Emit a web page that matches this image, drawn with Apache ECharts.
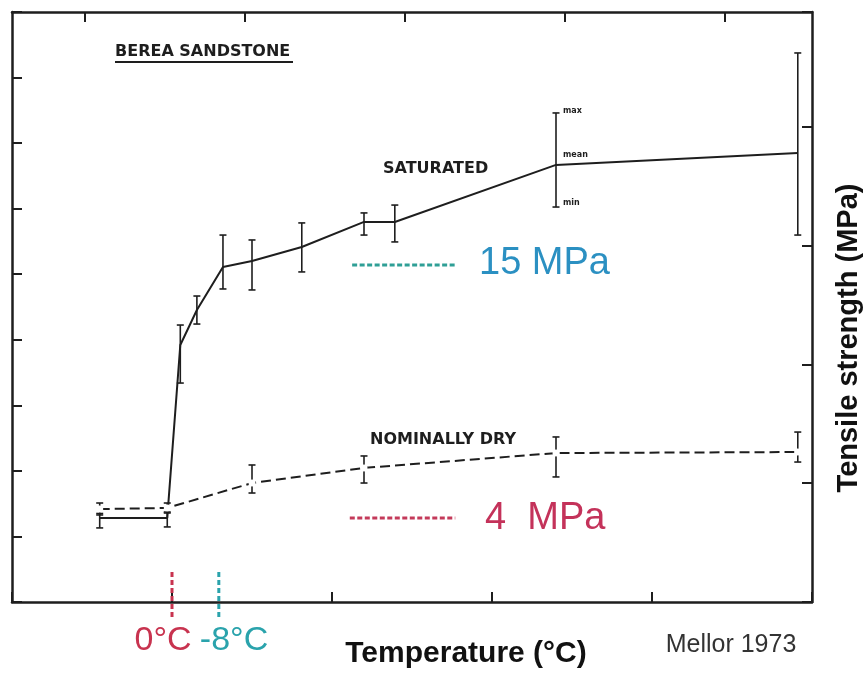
<!DOCTYPE html>
<html>
<head>
<meta charset="utf-8">
<title>Berea sandstone tensile strength</title>
<script src="https://cdn.jsdelivr.net/npm/echarts@6/dist/echarts.min.js"></script>
<style>
  html, body { margin: 0; padding: 0; background: #fff; }
  #chart { width: 865px; height: 673px; }
</style>
</head>
<body>
<div id="chart"></div>
<script>
// temperature in °C (axis runs warm -> cold, left to right), strength in psi
const satTemp = [12.2, 0.8, -1.4, -4.2, -8.6, -13.5, -21.9, -32.4, -37.6, -64.8, -105.6]
const satMean = [513, 513, 1568, 1782, 2044, 2081, 2166, 2319, 2319, 2667, 2740]
const satMin = [452, 458, 1336, 1696, 1910, 1904, 2014, 2239, 2197, 2410, 2239]
const satMax = [540, 549, 1690, 1867, 2239, 2209, 2313, 2374, 2422, 2984, 3350]

const dryTemp = [12.2, 0.8, -13.5, -32.4, -64.8, -105.6]
const dryMean = [567, 574, 726, 818, 909, 915]
const dryMin = [531, 543, 665, 726, 763, 854]
const dryMax = [604, 604, 836, 891, 1007, 1037]

// reference lines: [from temp, to temp, psi]
const satRef = [[-30.4, -47.8, 2056]]
const dryRef = [[-30.0, -47.8, 513]]
// freezing markers: [temp, top psi, bottom psi]
const freezeMarks = [[0, 183, -92], [-7.9, 183, -92]]
const freezeLabels = ['0°C', '-8°C']

const topTicks = [14.68, -12.32, -39.32, -66.32, -93.32]

const ink = '#1e1e1e'
const freezeColors = ['#c8334f', '#2aa3ac']

const chart = echarts.init(document.getElementById('chart'))

const zip = (a, b) => a.map((v, i) => [v, b[i]])

const renderErrorBar = (params, api) => {
  const x = api.value(0)
  const lo = api.coord([x, api.value(1)])
  const hi = api.coord([x, api.value(2)])
  const w = 3.5
  const style = { stroke: ink, lineWidth: 1.6 }
  return {
    type: 'group',
    children: [
      { type: 'line', shape: { x1: lo[0], y1: lo[1], x2: hi[0], y2: hi[1] }, style },
      { type: 'line', shape: { x1: hi[0] - w, y1: hi[1], x2: hi[0] + w, y2: hi[1] }, style },
      { type: 'line', shape: { x1: lo[0] - w, y1: lo[1], x2: lo[0] + w, y2: lo[1] }, style }
    ]
  }
}

const refRenderer = (color) => (params, api) => {
  const a = api.coord([api.value(0), api.value(2)])
  const b = api.coord([api.value(1), api.value(2)])
  return {
    type: 'line',
    shape: { x1: a[0], y1: a[1], x2: b[0], y2: b[1] },
    style: { stroke: color, lineWidth: 3, lineDash: [5, 2.5] }
  }
}

const renderFreeze = (params, api) => {
  const a = api.coord([api.value(0), api.value(1)])
  const b = api.coord([api.value(0), api.value(2)])
  return {
    type: 'line',
    shape: { x1: a[0], y1: a[1], x2: b[0], y2: b[1] },
    style: { stroke: freezeColors[params.dataIndex], lineWidth: 3, lineDash: [5, 3] }
  }
}

const axisLine = { show: true, onZero: false, lineStyle: { color: ink, width: 2.5 } }
const tick = { show: true, inside: true, length: 10, lineStyle: { color: ink, width: 2 } }

const txt = (x, y, text, font, fill, align, extra) => Object.assign({
  type: 'text',
  x, y,
  silent: true,
  style: {
    text, font, fill,
    textAlign: align, textVerticalAlign: 'middle',
    align, verticalAlign: 'middle'
  }
}, extra || {})

const labelFont = 'bold 16px "DejaVu Sans"'

chart.setOption({
  animation: false,
  backgroundColor: '#fff',
  grid: { left: 12, right: 53, top: 12, bottom: 71, containLabel: false, outerBoundsMode: 'none' },
  xAxis: [
    {
      type: 'value', position: 'bottom', inverse: true,
      min: -108, max: 27, interval: 27,
      axisLine, axisTick: tick,
      axisLabel: { show: false }, splitLine: { show: false }
    },
    {
      type: 'value', position: 'top', inverse: true,
      min: -108, max: 27, interval: 27,
      axisLine, axisTick: Object.assign({ customValues: topTicks }, tick),
      axisLabel: { show: false }, splitLine: { show: false }
    }
  ],
  yAxis: [
    {
      type: 'value', position: 'left',
      min: 0, max: 3600, interval: 400,
      axisLine, axisTick: tick,
      axisLabel: { show: false }, splitLine: { show: false }
    },
    {
      type: 'value', position: 'right',
      min: 0, max: 24.82, interval: 5,
      axisLine, axisTick: tick,
      axisLabel: { show: false }, splitLine: { show: false }
    }
  ],
  series: [
    {
      name: 'Saturated',
      type: 'line',
      data: zip(satTemp, satMean),
      symbol: 'none',
      lineStyle: { color: ink, width: 2 }
    },
    {
      name: 'Nominally dry',
      type: 'line',
      data: zip(dryTemp, dryMean),
      symbol: 'emptyCircle',
      symbolSize: 5,
      itemStyle: { color: '#fff', borderColor: ink, borderWidth: 1.4 },
      lineStyle: { color: ink, width: 2, type: [10, 5] }
    },
    {
      type: 'custom',
      renderItem: renderErrorBar,
      encode: { x: 0, y: [1, 2] },
      data: satTemp.map((t, i) => [t, satMin[i], satMax[i]]),
      silent: true
    },
    {
      type: 'custom',
      renderItem: renderErrorBar,
      encode: { x: 0, y: [1, 2] },
      data: dryTemp.map((t, i) => [t, dryMin[i], dryMax[i]]),
      silent: true
    },
    {
      type: 'custom',
      renderItem: refRenderer('#2f9f96'),
      encode: { x: [0, 1], y: 2 },
      data: satRef,
      silent: true
    },
    {
      type: 'custom',
      renderItem: refRenderer('#c43a5a'),
      encode: { x: [0, 1], y: 2 },
      data: dryRef,
      silent: true
    },
    {
      type: 'custom',
      renderItem: renderFreeze,
      encode: { x: 0, y: [1, 2] },
      data: freezeMarks,
      clip: false,
      silent: true,
      z: 5
    }
  ],
  graphic: [
    txt(115, 52, 'BEREA SANDSTONE', labelFont, ink, 'left'),
    { type: 'line', silent: true, shape: { x1: 115, y1: 62, x2: 293, y2: 62 }, style: { stroke: ink, lineWidth: 2 } },
    txt(383, 169, 'SATURATED', labelFont, ink, 'left'),
    txt(370, 440, 'NOMINALLY DRY', labelFont, ink, 'left'),
    txt(563, 111, 'max', 'bold 8px "DejaVu Sans"', ink, 'left'),
    txt(563, 155, 'mean', 'bold 8px "DejaVu Sans"', ink, 'left'),
    txt(563, 203, 'min', 'bold 8px "DejaVu Sans"', ink, 'left'),
    txt(479, 264, '15 MPa', '38px "Liberation Sans"', '#2b90c2', 'left'),
    txt(485, 519, '4  MPa', '38px "Liberation Sans"', '#c4325a', 'left'),
    txt(163, 641, freezeLabels[0], '34px "Liberation Sans"', freezeColors[0], 'center'),
    txt(234, 641, freezeLabels[1], '34px "Liberation Sans"', freezeColors[1], 'center'),
    txt(466, 654, 'Temperature (°C)', 'bold 30px "Liberation Sans"', '#111', 'center'),
    txt(731, 645, 'Mellor 1973', '25px "Liberation Sans"', '#333', 'center'),
    txt(849, 338, 'Tensile strength (MPa)', 'bold 29px "Liberation Sans"', '#111', 'center', { rotation: Math.PI / 2 })
  ]
})

window.addEventListener('resize', () => chart.resize())
</script>
</body>
</html>
